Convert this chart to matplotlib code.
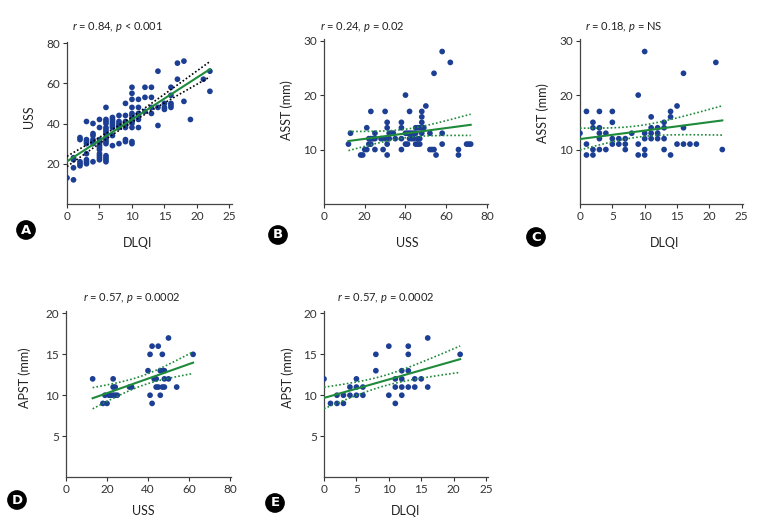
import numpy as np
import matplotlib
matplotlib.use("Agg")
import matplotlib.pyplot as plt

plt.rcParams['font.family'] = ['Lato', 'DejaVu Sans']
plt.rcParams['mathtext.fontset'] = 'custom'
plt.rcParams['mathtext.it'] = 'Lato:italic'
plt.rcParams['mathtext.rm'] = 'Lato'

# panel A: DLQI vs USS
a_x = [0, 1, 1, 1, 1, 2, 2, 2, 2, 2, 3, 3, 3, 3, 3, 3, 3, 3, 4, 4, 4, 4, 4, 4, 4,
       5, 5, 5, 5, 5, 5, 5, 5, 5, 5, 5, 6, 6, 6, 6, 6, 6, 6, 6, 6, 6, 6, 6, 6, 6, 6, 6,
       7, 7, 7, 7, 7, 7, 7, 7, 8, 8, 8, 8, 8, 8, 9, 9, 9, 9, 9, 9, 9, 9,
       10, 10, 10, 10, 10, 10, 10, 10, 10, 10, 10, 10, 11, 11, 11, 11, 11, 11,
       12, 12, 12, 13, 13, 13, 13, 14, 14, 14, 15, 15, 15, 16, 16, 16, 16, 16,
       17, 17, 18, 18, 19, 21, 22, 22]
a_y = [13, 12, 18, 22, 23, 19, 20, 21, 33, 32, 41, 32, 31, 30, 25, 22, 21, 20, 40, 35, 34, 32, 31, 30, 21,
       42, 38, 32, 30, 29, 28, 27, 25, 24, 23, 22, 48, 42, 41, 40, 38, 37, 36, 35, 33, 32, 31, 30, 24, 23, 22, 21,
       43, 42, 41, 40, 39, 38, 34, 29, 44, 41, 40, 39, 38, 30, 50, 44, 41, 40, 39, 38, 32, 31,
       58, 55, 52, 48, 45, 44, 42, 41, 40, 38, 31, 30, 52, 48, 45, 44, 42, 38,
       58, 53, 46, 58, 53, 48, 45, 66, 48, 39, 50, 48, 47, 58, 54, 50, 49, 48,
       70, 62, 71, 51, 42, 62, 66, 56]

# panel B: USS vs ASST
b_x = [12, 13, 18, 19, 20, 21, 21, 22, 22, 23, 23, 23, 24, 25, 25, 25, 28, 29, 30, 30,
       31, 31, 31, 31, 32, 32, 33, 34, 35, 38, 38, 38, 38, 40, 40, 40, 41, 41, 42, 42, 42,
       43, 43, 44, 44, 45, 45, 45, 46, 46, 46, 47, 47, 47, 48, 48, 48, 48, 48, 49, 50,
       52, 52, 53, 54, 54, 55, 58, 58, 58, 62, 66, 66, 70, 71, 72]
b_y = [11, 13, 9, 9, 10, 10, 14, 11, 12, 17, 12, 11, 12, 13, 12, 10, 12, 10, 17, 12,
       15, 14, 11, 9, 13, 12, 13, 13, 12, 15, 14, 12, 10, 20, 13, 11, 13, 11, 17, 13, 12,
       13, 12, 13, 12, 14, 13, 11, 14, 12, 11, 14, 12, 11, 17, 16, 15, 14, 13, 14, 18,
       13, 10, 10, 24, 10, 9, 28, 13, 11, 26, 10, 9, 11, 11, 11]

# panel C: DLQI vs ASST
c_x = [0, 1, 1, 1, 2, 2, 2, 2, 3, 3, 3, 3, 3, 4, 4, 5, 5, 5, 5, 6, 6, 7, 7, 7, 8,
       9, 9, 9, 10, 10, 10, 10, 10, 11, 11, 11, 11, 12, 12, 12, 13, 13, 13, 13,
       14, 14, 14, 15, 15, 16, 16, 16, 17, 18, 21, 22]
c_y = [13, 17, 11, 9, 15, 14, 10, 9, 17, 14, 13, 12, 10, 13, 10, 17, 15, 12, 11, 12, 11, 12, 11, 10, 13,
       20, 11, 9, 28, 13, 12, 10, 9, 16, 14, 13, 12, 14, 13, 12, 15, 14, 12, 10,
       17, 16, 9, 18, 11, 24, 14, 11, 11, 11, 26, 10]

# panel D: USS vs APST
d_x = [13, 18, 20, 19, 21, 22, 23, 23, 23, 24, 24, 25, 31, 32, 40, 41, 41, 42, 42, 43,
       44, 44, 45, 45, 46, 46, 47, 47, 47, 48, 48, 48, 50, 50, 54, 62]
d_y = [12, 9, 9, 10, 10, 10, 12, 11, 10, 11, 10, 10, 11, 11, 13, 15, 10, 16, 9, 12,
       12, 11, 16, 11, 13, 10, 15, 13, 11, 13, 12, 11, 17, 12, 11, 15]

# panel E: DLQI vs APST
e_x = [0, 1, 2, 2, 3, 3, 4, 4, 5, 5, 5, 6, 6, 8, 8, 10, 10, 11, 11, 11,
       12, 12, 12, 12, 13, 13, 13, 13, 14, 14, 15, 16, 16, 21]
e_y = [12, 9, 10, 9, 10, 9, 11, 10, 12, 11, 10, 11, 10, 15, 13, 16, 10, 12, 11, 9,
       13, 12, 11, 10, 16, 15, 13, 11, 12, 11, 12, 17, 11, 15]

panels = [
    # x, y, letter, stats, xlabel, ylabel, xlim, ylim, xticks, yticks, ci colour
    (a_x, a_y, 'A', r'$r$ = 0.84, $p$ < 0.001', 'DLQI', 'USS', 25.4, 80.5,
     [0, 5, 10, 15, 20, 25], [20, 40, 60, 80], 'black'),
    (b_x, b_y, 'B', r'$r$ = 0.24, $p$ = 0.02', 'USS', 'ASST (mm)', 80.5, 30.3,
     [0, 20, 40, 60, 80], [10, 20, 30], '#1e8a3a'),
    (c_x, c_y, 'C', r'$r$ = 0.18, $p$ = NS', 'DLQI', 'ASST (mm)', 25.2, 30.3,
     [0, 5, 10, 15, 20, 25], [10, 20, 30], '#1e8a3a'),
    (d_x, d_y, 'D', r'$r$ = 0.57, $p$ = 0.0002', 'USS', 'APST (mm)', 80.5, 20.3,
     [0, 20, 40, 60, 80], [5, 10, 15, 20], '#1e8a3a'),
    (e_x, e_y, 'E', r'$r$ = 0.57, $p$ = 0.0002', 'DLQI', 'APST (mm)', 25.3, 20.3,
     [0, 5, 10, 15, 20, 25], [5, 10, 15, 20], '#1e8a3a'),
]

W, H = 759, 524
# axes boxes in pixels: left, top, right, bottom
boxes = [(67, 42, 232, 204), (324, 39, 488, 204), (580, 39, 743, 204),
         (66, 311, 231, 477), (324, 311, 488, 477)]
title_px = [(72, 27), (320, 27), (585, 27), (83, 298), (337, 298)]
ylab_px = [35, 293, 549, 31, 294]
ylab_y = [0.54, 0.57, 0.55, 0.60, 0.60]
xlab_px = [(138, 237), (407, 237), (665, 237), (143, 505), (406, 505)]
badge_px = [(26, 230), (278, 235), (536, 237), (17, 500), (275, 503)]

fig = plt.figure(figsize=(W / 100, H / 100), dpi=100)

for i, p in enumerate(panels):
    x, y, letter, stats, xl, yl, xmax, ymax, xt, yt, cicol = p
    l, t, r, b = boxes[i]
    ax = fig.add_axes([l / W, (H - b) / H, (r - l) / W, (b - t) / H])
    x = np.array(x, float)
    y = np.array(y, float)
    ax.scatter(x, y, s=17, color='#1c3f94', edgecolors='none', zorder=3)

    # least squares fit with 95% CI of the mean
    slope, icpt = np.polyfit(x, y, 1)
    n = len(x)
    res = y - (icpt + slope * x)
    s = np.sqrt(np.sum(res ** 2) / (n - 2))
    xx = np.linspace(x.min(), x.max(), 50)
    se = s * np.sqrt(1 / n + (xx - x.mean()) ** 2 / np.sum((x - x.mean()) ** 2))
    fit = icpt + slope * xx
    ax.plot(xx, fit, color='#1e8a3a', lw=1.5, zorder=4)
    ax.plot(xx, fit + 1.98 * se, color=cicol, lw=1.2, ls=(0, (1, 1.3)), zorder=4)
    ax.plot(xx, fit - 1.98 * se, color=cicol, lw=1.2, ls=(0, (1, 1.3)), zorder=4)

    ax.set_xlim(0, xmax)
    ax.set_ylim(0, ymax)
    ax.set_xticks(xt)
    ax.set_yticks(yt)
    ax.tick_params(labelsize=8.5, length=3, width=0.8, colors='#333333', pad=2)
    for sp in ['top', 'right']:
        ax.spines[sp].set_visible(False)
    for sp in ['left', 'bottom']:
        ax.spines[sp].set_color('#444444')
        ax.spines[sp].set_linewidth(0.9)
    ax.set_ylabel(yl, fontsize=9, color='#222222')
    ax.yaxis.set_label_coords((ylab_px[i] - l) / (r - l), ylab_y[i])
    ax.set_xlabel(xl, fontsize=9, color='#222222')
    ax.xaxis.set_label_coords((xlab_px[i][0] - l) / (r - l), (b - xlab_px[i][1]) / (b - t))
    tx, ty = title_px[i]
    fig.text(tx / W, 1 - ty / H, stats, fontsize=8, ha='left', va='center', color='#222222')

    bx, by = badge_px[i]
    fig.text(bx / W, 1 - by / H, letter, ha='center', va='center', color='white',
             fontsize=9.5, fontweight='bold', family='DejaVu Sans',
             bbox=dict(boxstyle='circle,pad=0.2', fc='black', ec='black'))

fig.savefig('out.png', dpi=100)
